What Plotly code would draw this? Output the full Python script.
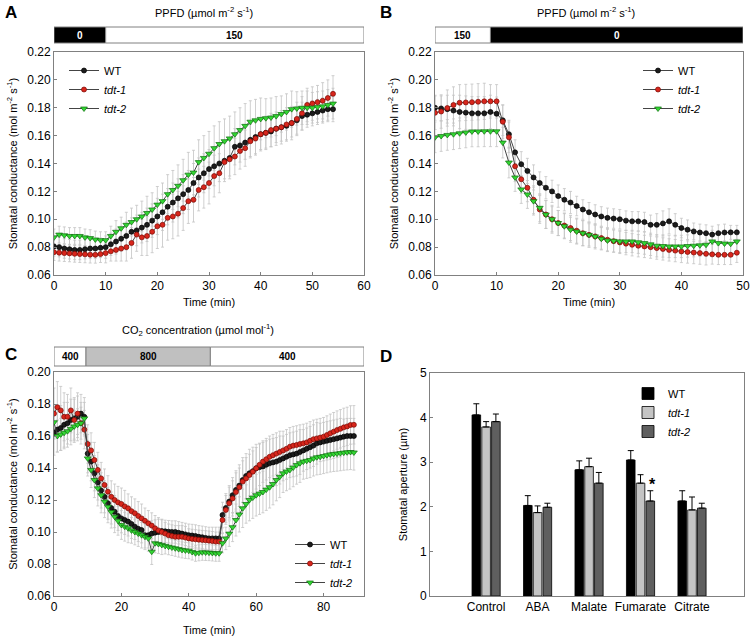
import plotly.graph_objects as go

# ---------------- Panel A data (light on at 10 min) ----------------
tA = list(range(0, 55))
A_wt = [0.0805,0.080,0.079,0.0785,0.078,0.078,0.0785,0.079,0.079,0.0795,0.080,0.082,0.084,0.086,0.088,0.091,0.092,0.094,0.096,0.099,
        0.102,0.105,0.109,0.112,0.115,0.118,0.121,0.126,0.130,0.133,0.136,0.138,0.140,0.142,0.144,0.152,0.153,0.155,0.157,0.159,
        0.161,0.162,0.163,0.165,0.166,0.167,0.169,0.171,0.174,0.175,0.176,0.177,0.178,0.179,0.179]
A_t1 = [0.0764,0.076,0.0757,0.0755,0.0752,0.075,0.0748,0.0746,0.0745,0.075,0.0757,0.077,0.078,0.079,0.080,0.083,0.089,0.087,0.088,0.091,
        0.095,0.096,0.101,0.102,0.104,0.108,0.113,0.114,0.121,0.123,0.126,0.131,0.133,0.141,0.143,0.145,0.149,0.151,0.156,0.158,
        0.161,0.162,0.164,0.165,0.166,0.168,0.169,0.172,0.176,0.182,0.183,0.184,0.185,0.187,0.190]
A_t2 = [0.087,0.089,0.0885,0.088,0.088,0.088,0.087,0.0865,0.0855,0.085,0.085,0.088,0.091,0.0935,0.096,0.098,0.100,0.102,0.1045,0.107,
        0.1105,0.113,0.118,0.121,0.124,0.128,0.132,0.1335,0.141,0.144,0.147,0.151,0.154,0.156,0.158,0.161,0.164,0.167,0.170,0.171,
        0.172,0.1725,0.173,0.174,0.1755,0.177,0.179,0.1795,0.180,0.180,0.180,0.1805,0.181,0.182,0.183]
A_wt_se = [0.007,0.007,0.007,0.007,0.007,0.007,0.007,0.007,0.007,0.007,0.008,0.008,0.009,0.009,0.010,0.010,0.011,0.011,0.012,0.012,
           0.013,0.013,0.013,0.014,0.014,0.014,0.014,0.014,0.014,0.014,0.014,0.014,0.013,0.013,0.013,0.013,0.012,0.012,0.012,0.012,
           0.011,0.011,0.011,0.010,0.010,0.010,0.010,0.010,0.010,0.009,0.009,0.009,0.009,0.009,0.009]
A_t1_se = [0.006,0.006,0.006,0.006,0.006,0.006,0.006,0.006,0.006,0.006,0.007,0.007,0.008,0.009,0.010,0.011,0.012,0.013,0.014,0.015,
           0.016,0.016,0.016,0.016,0.016,0.016,0.016,0.016,0.015,0.015,0.015,0.015,0.014,0.014,0.014,0.013,0.013,0.013,0.012,0.012,
           0.012,0.012,0.012,0.012,0.012,0.012,0.012,0.012,0.012,0.012,0.012,0.012,0.013,0.013,0.013]
A_t2_se = [0.006,0.006,0.006,0.006,0.006,0.006,0.006,0.006,0.006,0.006,0.006,0.007,0.008,0.008,0.009,0.010,0.010,0.011,0.012,0.012,
           0.013,0.013,0.014,0.014,0.015,0.015,0.016,0.016,0.016,0.016,0.016,0.016,0.016,0.016,0.016,0.016,0.016,0.016,0.015,0.015,
           0.015,0.014,0.014,0.014,0.013,0.013,0.013,0.012,0.012,0.012,0.011,0.011,0.011,0.011,0.011]

# ---------------- Panel B data (light off at 9 min) ----------------
tB = list(range(0, 50))
B_wt = [0.180,0.1795,0.179,0.178,0.177,0.1765,0.176,0.176,0.176,0.177,0.1757,0.171,0.161,0.148,0.1395,0.1347,0.130,0.126,0.1226,0.120,
        0.1166,0.114,0.112,0.1095,0.107,0.105,0.1034,0.102,0.101,0.1005,0.100,0.099,0.0985,0.0985,0.098,0.096,0.096,0.097,0.0985,0.096,
        0.0937,0.0925,0.0913,0.0905,0.090,0.089,0.090,0.0905,0.0906,0.0906]
B_t1 = [0.1764,0.1773,0.1798,0.182,0.1836,0.1838,0.184,0.1843,0.1846,0.1846,0.1846,0.170,0.1588,0.138,0.1287,0.1226,0.114,0.107,0.1034,0.100,
        0.0973,0.0955,0.0937,0.0918,0.090,0.0888,0.0877,0.0865,0.0853,0.0843,0.0834,0.0825,0.0817,0.081,0.0805,0.080,0.0793,0.0787,0.078,0.0775,
        0.0769,0.0765,0.0761,0.0757,0.0752,0.0748,0.0745,0.0745,0.0745,0.076]
B_t2 = [0.1588,0.1597,0.1605,0.161,0.1617,0.1623,0.163,0.163,0.1631,0.1631,0.1631,0.155,0.1407,0.130,0.1214,0.1178,0.113,0.1082,0.1034,0.100,
        0.0973,0.095,0.0925,0.0912,0.090,0.0888,0.0877,0.086,0.0848,0.0845,0.0841,0.0841,0.0841,0.0835,0.0829,0.082,0.081,0.0808,0.0805,0.0805,
        0.0805,0.0808,0.081,0.0813,0.0817,0.0841,0.0829,0.0826,0.0824,0.0841]
B_wt_se = [0.009,0.009,0.010,0.011,0.012,0.012,0.012,0.012,0.012,0.012,0.012,0.011,0.010,0.009,0.009,0.009,0.009,0.008,0.008,0.008,
           0.008,0.008,0.008,0.007,0.007,0.007,0.007,0.007,0.007,0.007,0.007,0.007,0.007,0.007,0.007,0.007,0.008,0.009,0.009,0.008,
           0.007,0.007,0.006,0.006,0.006,0.006,0.006,0.006,0.005,0.005]
B_t1_se = [0.012,0.012,0.013,0.013,0.013,0.013,0.013,0.013,0.013,0.012,0.012,0.012,0.011,0.011,0.010,0.010,0.010,0.010,0.010,0.010,
           0.009,0.009,0.009,0.009,0.009,0.009,0.009,0.008,0.008,0.008,0.008,0.008,0.008,0.008,0.008,0.008,0.008,0.008,0.008,0.008,
           0.008,0.008,0.008,0.008,0.008,0.007,0.007,0.007,0.007,0.007]
B_t2_se = [0.011,0.011,0.011,0.011,0.011,0.011,0.011,0.011,0.011,0.011,0.011,0.011,0.011,0.010,0.010,0.010,0.010,0.010,0.010,0.009,
           0.009,0.009,0.009,0.009,0.009,0.008,0.008,0.008,0.008,0.008,0.008,0.008,0.008,0.008,0.008,0.008,0.008,0.008,0.008,0.008,
           0.008,0.008,0.008,0.008,0.008,0.008,0.008,0.008,0.008,0.008]

# ---------------- Panel C data (CO2 400 -> 800 -> 400) ----------------
tC = list(range(0, 90))
C_wt = [0.162,0.164,0.165,0.167,0.168,0.170,0.171,0.172,0.174,0.172,0.149,0.144,0.1367,0.131,0.126,0.122,0.118,0.115,0.1127,0.110,
        0.1085,0.1075,0.1065,0.105,0.1033,0.102,0.1012,0.098,0.098,0.099,0.0996,0.100,0.1006,0.1004,0.1002,0.100,0.100,0.0995,0.099,0.0985,
        0.098,0.0978,0.0975,0.097,0.0967,0.0963,0.096,0.096,0.096,0.096,0.1106,0.115,0.119,0.123,0.1263,0.129,0.1325,0.135,0.1367,0.138,
        0.1398,0.1405,0.141,0.142,0.143,0.1435,0.144,0.145,0.146,0.147,0.148,0.1485,0.149,0.150,0.151,0.152,0.153,0.154,0.1554,0.156,
        0.1565,0.157,0.1575,0.158,0.1585,0.159,0.1596,0.160,0.160,0.160]
C_t1 = [0.174,0.178,0.176,0.172,0.172,0.176,0.170,0.174,0.168,0.164,0.155,0.151,0.145,0.1388,0.1335,0.1294,0.1252,0.122,0.120,0.1185,
        0.1175,0.116,0.1148,0.113,0.1117,0.110,0.1085,0.107,0.1054,0.104,0.1023,0.101,0.100,0.099,0.098,0.0975,0.097,0.097,0.097,0.0965,
        0.096,0.0957,0.0954,0.0952,0.095,0.0948,0.0946,0.0943,0.094,0.094,0.1075,0.1138,0.118,0.121,0.125,0.128,0.1315,0.1335,0.1356,0.1377,
        0.1398,0.142,0.144,0.1455,0.147,0.148,0.149,0.150,0.151,0.152,0.1533,0.154,0.1544,0.155,0.1554,0.156,0.157,0.158,0.1585,0.159,
        0.1596,0.1606,0.1617,0.1627,0.1637,0.1645,0.1654,0.166,0.1669,0.167]
C_t2 = [0.1686,0.160,0.161,0.162,0.163,0.1645,0.166,0.167,0.168,0.171,0.146,0.1388,0.1325,0.1273,0.123,0.119,0.1158,0.1125,0.1096,0.107,
        0.1044,0.1033,0.1023,0.101,0.100,0.099,0.098,0.097,0.096,0.0877,0.093,0.0925,0.0919,0.0913,0.0908,0.0903,0.0898,0.0893,0.0888,0.0885,
        0.0883,0.0875,0.0867,0.087,0.0873,0.0872,0.0871,0.0869,0.0867,0.0867,0.093,0.096,0.099,0.103,0.1075,0.111,0.1148,0.1175,0.120,0.1215,
        0.123,0.124,0.125,0.1265,0.128,0.130,0.1325,0.1345,0.1367,0.1378,0.1388,0.1403,0.1419,0.143,0.144,0.1445,0.145,0.146,0.1467,0.147,
        0.1475,0.148,0.1485,0.1488,0.149,0.1493,0.1496,0.1498,0.150,0.1497]
C_wt_se = [0.014,0.014,0.014,0.014,0.013,0.013,0.013,0.013,0.012,0.012,0.012,0.012,0.011,0.011,0.011,0.010,0.010,0.010,0.010,0.009,
           0.009,0.009,0.009,0.009,0.008,0.008,0.008,0.008,0.008,0.008,0.008,0.008,0.007,0.007,0.007,0.007,0.007,0.007,0.007,0.007,
           0.007,0.007,0.007,0.007,0.007,0.007,0.007,0.007,0.007,0.007,0.008,0.009,0.010,0.011,0.012,0.013,0.014,0.014,0.015,0.015,
           0.015,0.015,0.015,0.015,0.015,0.015,0.015,0.015,0.014,0.014,0.014,0.014,0.014,0.014,0.013,0.013,0.013,0.013,0.013,0.012,
           0.012,0.012,0.012,0.012,0.012,0.012,0.011,0.011,0.011,0.011]
C_t1_se = [0.016,0.016,0.015,0.015,0.014,0.014,0.013,0.013,0.013,0.012,0.012,0.011,0.011,0.011,0.010,0.010,0.010,0.010,0.010,0.010,
           0.010,0.010,0.009,0.009,0.009,0.009,0.009,0.008,0.008,0.008,0.008,0.008,0.008,0.007,0.007,0.007,0.007,0.007,0.007,0.007,
           0.006,0.006,0.006,0.006,0.006,0.006,0.006,0.006,0.006,0.006,0.008,0.009,0.010,0.011,0.012,0.012,0.013,0.013,0.013,0.013,
           0.013,0.013,0.013,0.013,0.013,0.013,0.013,0.013,0.012,0.012,0.012,0.012,0.012,0.012,0.012,0.012,0.012,0.012,0.012,0.012,
           0.012,0.012,0.012,0.012,0.012,0.012,0.012,0.012,0.012,0.012]
C_t2_se = [0.010,0.010,0.010,0.010,0.010,0.010,0.010,0.010,0.010,0.010,0.011,0.011,0.011,0.011,0.011,0.010,0.010,0.010,0.010,0.009,
           0.009,0.009,0.009,0.008,0.008,0.008,0.008,0.008,0.008,0.008,0.006,0.006,0.006,0.005,0.005,0.005,0.005,0.005,0.005,0.005,
           0.005,0.005,0.005,0.005,0.005,0.005,0.005,0.005,0.005,0.005,0.006,0.007,0.008,0.009,0.010,0.011,0.012,0.012,0.013,0.013,
           0.013,0.013,0.013,0.013,0.013,0.013,0.013,0.013,0.012,0.012,0.012,0.012,0.012,0.012,0.011,0.011,0.011,0.011,0.011,0.011,
           0.011,0.011,0.011,0.011,0.011,0.011,0.011,0.011,0.011,0.011]

# ---------------- Panel D data (stomatal aperture) ----------------
treatments = ["Control", "ABA", "Malate", "Fumarate", "Citrate"]
D_wt = [4.06, 2.03, 2.83, 3.05, 2.13]
D_t1 = [3.79, 1.87, 2.90, 2.53, 1.93]
D_t2 = [3.91, 1.99, 2.53, 2.13, 1.97]
D_wt_se = [0.25, 0.22, 0.20, 0.21, 0.23]
D_t1_se = [0.12, 0.15, 0.19, 0.19, 0.29]
D_t2_se = [0.17, 0.09, 0.24, 0.23, 0.11]
no_lower = [0, 0, 0, 0, 0]

genotypes = ["WT", "<i>tdt-1</i>", "<i>tdt-2</i>"]
FONT = "Liberation Sans, Arial, sans-serif"

mk = [
    dict(symbol="circle", size=5, color="#1c1c1c", line=dict(color="#000000", width=0.7)),
    dict(symbol="circle", size=5, color="#d8261c", line=dict(color="#7a0a05", width=0.7)),
    dict(symbol="triangle-down", size=6, color="#33d633", line=dict(color="#0f6e0f", width=0.7)),
]
ERRC = "#c4c4c4"

fig = go.Figure()

panels = [
    ("x", "y", "legend", tA, [A_wt, A_t1, A_t2], [A_wt_se, A_t1_se, A_t2_se]),
    ("x2", "y2", "legend2", tB, [B_wt, B_t1, B_t2], [B_wt_se, B_t1_se, B_t2_se]),
    ("x3", "y3", "legend3", tC, [C_wt, C_t1, C_t2], [C_wt_se, C_t1_se, C_t2_se]),
]
for xa, ya, lg, t, ser, ses in panels:
    for s, e in zip(ser, ses):
        fig.add_trace(go.Scatter(x=t, y=s, mode="markers", xaxis=xa, yaxis=ya,
                                 marker=dict(size=1, opacity=0), showlegend=False, hoverinfo="skip",
                                 error_y=dict(type="data", array=e, color=ERRC, thickness=0.8, width=1.5)))
    for name, s, m in zip(genotypes, ser, mk):
        fig.add_trace(go.Scatter(x=t, y=s, mode="lines+markers", name=name, xaxis=xa, yaxis=ya,
                                 legend=lg, marker=m, line=dict(color="#444444", width=1)))

bar_cols = ["#000000", "#c4c4c4", "#5f5f5f"]
for name, v, e, c in zip(genotypes, [D_wt, D_t1, D_t2], [D_wt_se, D_t1_se, D_t2_se], bar_cols):
    fig.add_trace(go.Bar(x=treatments, y=v, name=name, xaxis="x4", yaxis="y4", legend="legend4",
                         marker=dict(color=c, line=dict(color="#000000", width=0.8)),
                         error_y=dict(type="data", symmetric=False, array=e, arrayminus=no_lower,
                                      color="#000000", thickness=1, width=3)))

W, H = 752, 639
def px(v): return v / W
def py(v): return 1 - v / H

axis_common = dict(showline=True, linecolor="#808080", linewidth=1, mirror=True, ticks="inside",
                   ticklen=3, tickcolor="#808080", showgrid=False, zeroline=False, automargin=False,
                   ticklabeloverflow="allow",
                   tickfont=dict(size=12, color="black", family=FONT))
ytitle_cond = "Stomatal conductance (mol m<sup>-2</sup> s<sup>-1</sup>)"
title_font = dict(size=11, color="black", family=FONT)

fig.update_layout(
    width=W, height=H, margin=dict(l=0, r=0, t=0, b=0, autoexpand=False),
    paper_bgcolor="white", plot_bgcolor="white",
    font=dict(family=FONT, color="black"),
    barmode="group", bargap=0.43, bargroupgap=0.12,
    xaxis=dict(domain=[px(54), px(364)], anchor="y", range=[0, 60], dtick=10,
               title=dict(text="Time (min)", font=title_font, standoff=5), **axis_common),
    yaxis=dict(domain=[py(275), py(52)], anchor="x", range=[0.06, 0.22], dtick=0.02, tickformat=".2f",
               title=dict(text=ytitle_cond, font=title_font, standoff=7), **axis_common),
    xaxis2=dict(domain=[px(435), px(743)], anchor="y2", range=[0, 50], dtick=10,
                title=dict(text="Time (min)", font=title_font, standoff=5), **axis_common),
    yaxis2=dict(domain=[py(275), py(52)], anchor="x2", range=[0.06, 0.22], dtick=0.02, tickformat=".2f",
                title=dict(text=ytitle_cond, font=title_font, standoff=7), **axis_common),
    xaxis3=dict(domain=[px(54), px(364)], anchor="y3", range=[0, 92], tickvals=[0, 20, 40, 60, 80],
                title=dict(text="Time (min)", font=title_font, standoff=12), **axis_common),
    yaxis3=dict(domain=[py(596), py(372)], anchor="x3", range=[0.06, 0.20], dtick=0.02, tickformat=".2f",
                title=dict(text=ytitle_cond, font=title_font, standoff=7), **axis_common),
    xaxis4=dict(domain=[px(430), px(744)], anchor="y4", range=[-1.09, 5.01], type="category",
                **{**axis_common, "ticks": ""}),
    yaxis4=dict(domain=[py(596), py(373)], anchor="x4", range=[0, 5], dtick=1,
                title=dict(text="Stomatal aperture (µm)", font=title_font, standoff=10), **axis_common),
)

leg_common = dict(bgcolor="rgba(0,0,0,0)", font=dict(size=11, color="black", family=FONT),
                  xanchor="left", yanchor="top", tracegroupgap=0, itemwidth=30)
fig.update_layout(
    legend=dict(x=px(64), y=py(56), **leg_common),
    legend2=dict(x=px(638), y=py(56), **leg_common),
    legend3=dict(x=px(290), y=py(530), **leg_common),
    legend4=dict(x=px(628), y=py(379), **leg_common),
)

shapes = []
ann = []
def seg(xref, x0, x1, y0, y1, fill, label, tcol):
    shapes.append(dict(type="rect", xref=xref, yref="paper", x0=x0, x1=x1, y0=py(y1), y1=py(y0),
                       fillcolor=fill, line=dict(color="#808080", width=1)))
    ann.append(dict(xref=xref, yref="paper", x=(x0 + x1) / 2, y=py((y0 + y1) / 2), text="<b>%s</b>" % label,
                    showarrow=False, font=dict(size=10, color=tcol, family=FONT), xanchor="center", yanchor="middle"))

seg("x", 0, 10, 27, 43, "black", "0", "white")
seg("x", 10, 60, 27, 43, "white", "150", "black")
seg("x2", 0, 9, 27, 43, "white", "150", "black")
seg("x2", 9, 50, 27, 43, "black", "0", "white")
seg("x3", 0, 9.5, 347, 366, "white", "400", "black")
seg("x3", 9.5, 46.4, 347, 366, "#c0c0c0", "800", "black")
seg("x3", 46.4, 92, 347, 366, "white", "400", "black")

ann += [
    dict(xref="paper", yref="paper", x=px(204), y=py(12), text="PPFD (µmol m<sup>-2</sup> s<sup>-1</sup>)",
         showarrow=False, font=dict(size=11, color="black", family=FONT), xanchor="center", yanchor="middle"),
    dict(xref="paper", yref="paper", x=px(586), y=py(12), text="PPFD (µmol m<sup>-2</sup> s<sup>-1</sup>)",
         showarrow=False, font=dict(size=11, color="black", family=FONT), xanchor="center", yanchor="middle"),
    dict(xref="paper", yref="paper", x=px(198), y=py(330), text="CO<sub>2</sub> concentration (µmol mol<sup>-1</sup>)",
         showarrow=False, font=dict(size=11, color="black", family=FONT), xanchor="center", yanchor="middle"),
    dict(xref="paper", yref="paper", x=px(3), y=py(12), text="<b>A</b>", showarrow=False,
         font=dict(size=17, color="black", family=FONT), xanchor="left", yanchor="middle"),
    dict(xref="paper", yref="paper", x=px(378), y=py(12), text="<b>B</b>", showarrow=False,
         font=dict(size=17, color="black", family=FONT), xanchor="left", yanchor="middle"),
    dict(xref="paper", yref="paper", x=px(3), y=py(354), text="<b>C</b>", showarrow=False,
         font=dict(size=17, color="black", family=FONT), xanchor="left", yanchor="middle"),
    dict(xref="paper", yref="paper", x=px(378), y=py(356), text="<b>D</b>", showarrow=False,
         font=dict(size=17, color="black", family=FONT), xanchor="left", yanchor="middle"),
    dict(xref="paper", yref="y4", x=px(652), y=2.5, text="<b>*</b>", showarrow=False,
         font=dict(size=16, color="black", family=FONT), xanchor="center", yanchor="middle"),
]
fig.update_layout(shapes=shapes, annotations=ann)

# remove the default 8px page margin so the 752x639 figure fills the window exactly
fig.write_html("out.html", config={"displayModeBar": False},
               post_script="document.body.style.margin='0';document.body.style.overflow='hidden';")
